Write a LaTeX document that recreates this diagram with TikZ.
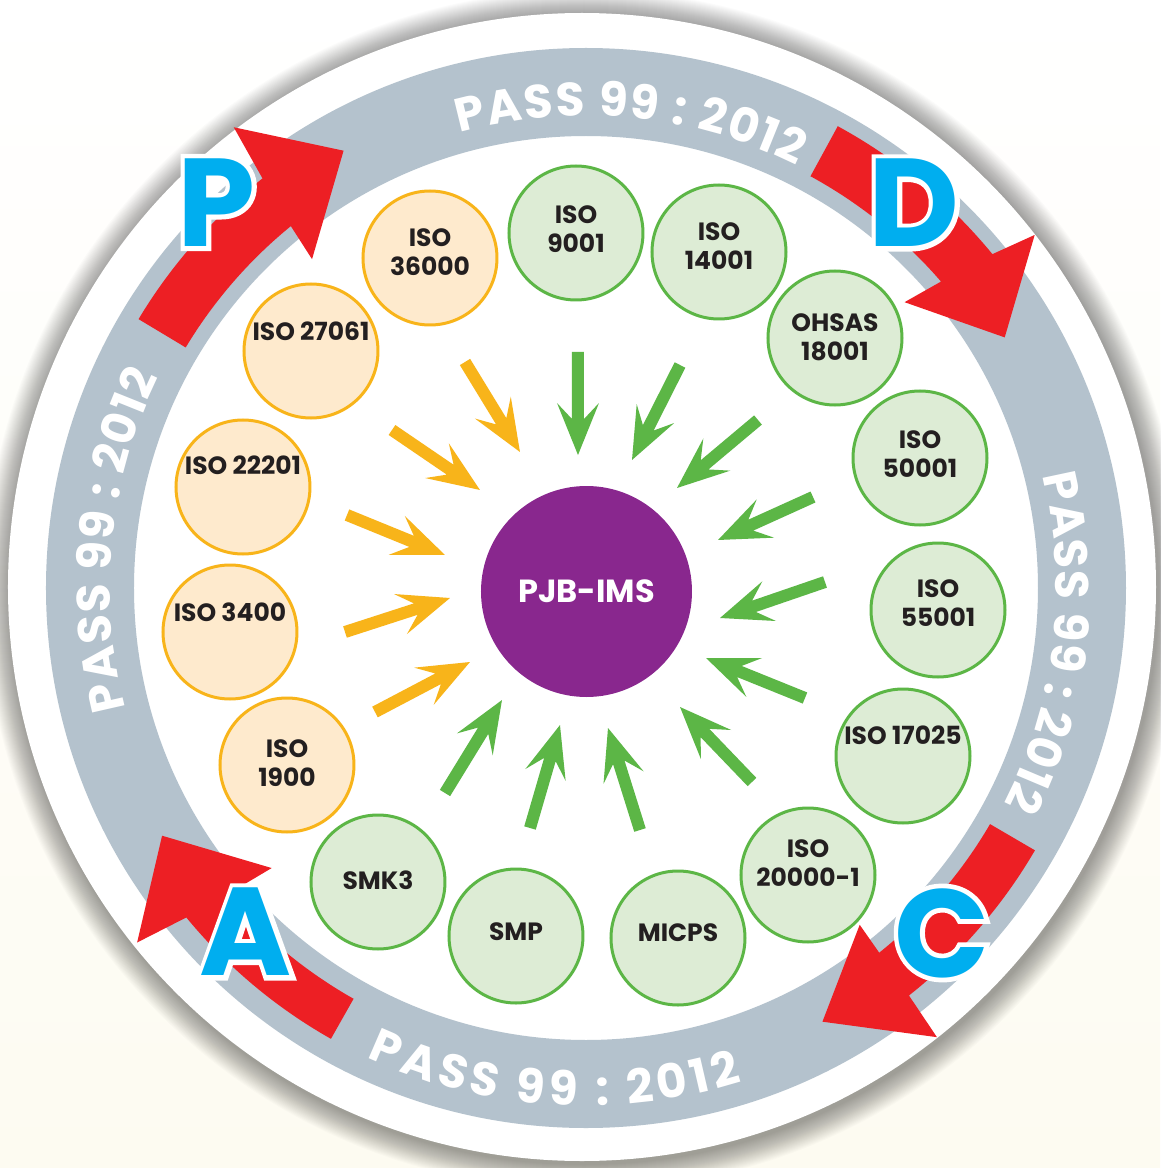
\documentclass[tikz,border=0pt]{standalone}
\usepackage{fontspec}
\setmainfont{Poppins}
\newfontfamily\haloface{Poppins}[FakeBold=7.5]
\usetikzlibrary{calc,decorations.text}

\definecolor{ringgray}{HTML}{B4C2CD}
\definecolor{pdcared}{HTML}{ED1F24}
\definecolor{pdcablue}{HTML}{00AEEF}
\definecolor{imspurple}{HTML}{89278E}
\definecolor{amber}{HTML}{F8B41A}
\definecolor{peach}{HTML}{FEEACD}
\definecolor{leaf}{HTML}{5CB646}
\definecolor{mint}{HTML}{DDECD5}
\definecolor{cream}{HTML}{FDFBF1}
\definecolor{inkblack}{HTML}{231F20}

\newcommand\lblfont{\fontsize{25}{29}\selectfont\bfseries}
\newcommand\bigletter{\fontsize{125}{125}\selectfont\bfseries}
\newcommand\bighalo{\haloface\fontsize{125}{125}\selectfont\bfseries}

% inward dart: start (x1,y1), tip (x2,y2), colour
\newcommand\dart[5]{%
  \pgfmathsetmacro\dartang{atan2(#4-#2,#3-#1)}%
  \pgfmathsetmacro\dartlen{veclen(#3-#1,#4-#2)}%
  \begin{scope}[shift={(#1,#2)},rotate=\dartang]
    \fill[#5] (0,6) -- (\dartlen-36,6) -- (\dartlen-52,21) -- (\dartlen,0)
      -- (\dartlen-52,-21) -- (\dartlen-36,-6) -- (0,-6) -- cycle;
  \end{scope}}

% blue PDCA letter with a white rim
\newcommand\pdcaletter[3]{%
  \node[text=white,font=\bighalo,inner sep=0pt] at (#2) {#3};
  \node[text=pdcablue,font=\bigletter,inner sep=0pt] (#1) at (#2) {#3};}

% ring caption spread along an arc
\newcommand\ringtext[3]{%
  \path[decorate,decoration={text along path,text align=fit to path,text color=white,
    text={|\fontsize{47}{47}\selectfont\bfseries|PASS 99 : 2012}}]
    (#1:#3) arc[start angle=#1,end angle=#2,radius=#3];}

\tikzset{
  orangeball/.style={circle,draw=amber,fill=peach,line width=3pt,minimum size=134pt,inner sep=0pt},
  greenball/.style={circle,draw=leaf,fill=mint,line width=3pt,minimum size=134pt,inner sep=0pt},
  lbl/.style={font=\lblfont,align=center,inner sep=0pt,text=inkblack},
}

\begin{document}
\begin{tikzpicture}[x=1pt,y=1pt]
\useasboundingbox (-586,-580) rectangle (574,588);
\fill[top color=white,bottom color=cream] (-586,-580) rectangle (574,588);

% soft shadow around the disc
\foreach \k in {1,...,26}
  \fill[black,opacity=0.017] (-2,-2) circle[radius={574+\k}];

% white disc and grey ring
\fill[white] (-4,1) circle[radius=574];
\fill[ringgray,even odd rule] (0,0) circle[radius=540] (0,0) circle[radius=452];

% ring captions
\ringtext{105.5}{63.5}{472}
\ringtext{194.6}{153.7}{476}
\ringtext{13.8}{-27.3}{470}
\ringtext{245}{287.5}{518}

% red PDCA arrows
\fill[pdcared] (149:522) arc[start angle=149,end angle=128.3,radius=522] -- (127.4:580)
  -- (119:500) -- (129.8:428) -- (129.2:467) arc[start angle=129.2,end angle=149,radius=467] -- cycle;
\fill[pdcared] (61.4:526) arc[start angle=61.4,end angle=39.4,radius=526] -- (38.2:571)
  -- (30.9:488) -- (41.9:428) -- (40.8:469) arc[start angle=40.8,end angle=61.4,radius=469] -- cycle;
\fill[pdcared] (-30.3:520) arc[start angle=-30.3,end angle=-51.6,radius=520] -- (-52:570)
  -- (-61.4:494) -- (-50.9:434) -- (-51.2:468) arc[start angle=-51.2,end angle=-30.3,radius=468] -- cycle;
\fill[pdcared] (240.5:518) arc[start angle=240.5,end angle=219.5,radius=518] -- (218.3:572)
  -- (210.3:491) -- (221.7:421) -- (220.5:472) arc[start angle=220.5,end angle=240.5,radius=472] -- cycle;

\pdcaletter{P}{-369.5,385.5}{P}
\pdcaletter{D}{328,385}{D}
\pdcaletter{C}{356,-345}{C}
\pdcaletter{A}{-340,-344}{A}

% centre
\node[circle,fill=imspurple,minimum size=211pt,inner sep=0pt,text=white,
  font=\fontsize{32}{32}\selectfont\bfseries] (ims) at (0.5,-3.5) {PJB-IMS};

% standards
\node[orangeball] (s36000) at (-156,330) {};
\node[orangeball] (s27061) at (-275,237) {};
\node[orangeball] (s22201) at (-343,101) {};
\node[orangeball] (s3400)  at (-356,-44) {};
\node[orangeball] (s1900)  at (-299,-177) {};
\node[greenball] (s9001)  at (-10,355) {};
\node[greenball] (s14001) at (133,336) {};
\node[greenball] (s18001) at (249,250) {};
\node[greenball] (s50001) at (334,130) {};
\node[greenball] (s55001) at (352,-22) {};
\node[greenball] (s17025) at (317,-168) {};
\node[greenball] (s20000) at (222,-287) {};
\node[greenball] (smicps) at (92,-350) {};
\node[greenball] (ssmp)   at (-70,-348) {};
\node[greenball] (ssmk)   at (-208,-294) {};

\node[lbl] (t36000) at ($(s36000)+(0,6)$) {ISO\\36000};
\node[lbl] (t27061) at ($(s27061)+(0,20)$) {ISO 27061};
\node[lbl] (t22201) at ($(s22201)+(0,22)$) {ISO 22201};
\node[lbl] (t3400)  at ($(s3400)+(0,20)$) {ISO 3400};
\node[lbl] (t1900)  at ($(s1900)+(0,2)$) {ISO\\1900};
\node[lbl] (t9001)  at ($(s9001)+(0,4)$) {ISO\\9001};
\node[lbl] (t14001) at ($(s14001)+(0,6)$) {ISO\\14001};
\node[lbl] (t18001) at ($(s18001)+(0,1)$) {OHSAS\\18001};
\node[lbl] (t50001) at ($(s50001)+(0,4)$) {ISO\\50001};
\node[lbl] (t55001) at ($(s55001)+(0,7)$) {ISO\\55001};
\node[lbl] (t17025) at ($(s17025)+(0,21)$) {ISO 17025};
\node[lbl] (t20000) at ($(s20000)+(0,12)$) {ISO\\20000-1};
\node[lbl] (tmicps) at ($(smicps)+(0,5)$) {MICPS};
\node[lbl] (tsmp)   at ($(ssmp)+(0,4)$) {SMP};
\node[lbl] (tsmk)   at ($(ssmk)+(0,2)$) {SMK3};

% darts pointing at the centre
\dart{-121}{226}{-66}{136}{amber}
\dart{-194}{158}{-106}{98}{amber}
\dart{-239}{73}{-141}{33}{amber}
\dart{-241}{-44}{-136}{-10}{amber}
\dart{-211}{-124}{-116}{-74}{amber}
\dart{-8}{236}{-8}{133}{leaf}
\dart{94}{223}{46}{128}{leaf}
\dart{172}{168}{91}{100}{leaf}
\dart{227}{91}{132}{48}{leaf}
\dart{239}{6}{134}{-30}{leaf}
\dart{219}{-110}{120}{-70}{leaf}
\dart{166}{-194}{94}{-119}{leaf}
\dart{54}{-242}{22}{-140}{leaf}
\dart{-56}{-240}{-26}{-137}{leaf}
\dart{-141}{-205}{-84}{-112}{leaf}
\end{tikzpicture}
\end{document}
